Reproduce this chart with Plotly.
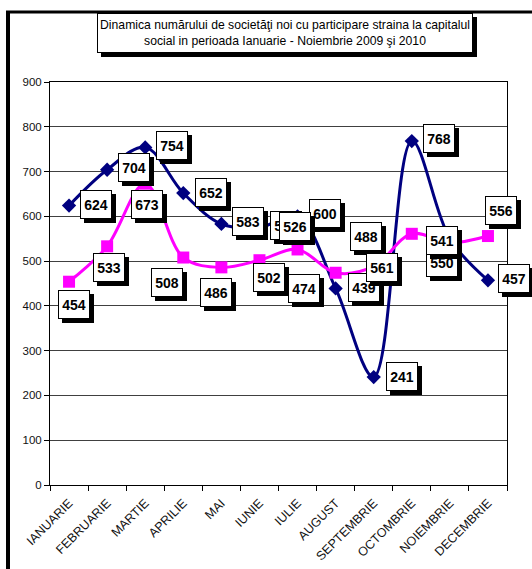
import plotly.graph_objects as go

months = ["IANUARIE", "FEBRUARIE", "MARTIE", "APRILIE", "MAI", "IUNIE",
          "IULIE", "AUGUST", "SEPTEMBRIE", "OCTOMBRIE", "NOIEMBRIE", "DECEMBRIE"]
series_navy = [624, 704, 754, 652, 583, 575, 600, 439, 241, 768, 550, 457]
series_magenta = [454, 533, 673, 508, 486, 502, 526, 474, 488, 561, 541, 556]
y_ticks = [0, 100, 200, 300, 400, 500, 600, 700, 800, 900]

# label offsets in pixels (dx, dy up)
navy_label_shift = [(27, 1), (27, 2), (27, 2), (28, 1), (27, 2), (27, 2),
                    (27, 3), (28, 1), (28, 1), (27, 3), (-8, -24), (26, 2)]
mag_label_shift = [(5, -23), (2, -21), (2, -21), (-16, -25), (-5, -25), (10, -17),
                   (-3, 23), (-32, -16), (-8, 30), (-30, -34), (-8, 2), (13, 26)]

NAVY = "#000080"
MAG = "#FF00FF"

fig = go.Figure()
fig.add_trace(go.Scatter(
    x=months, y=series_navy, mode="lines+markers",
    line=dict(color=NAVY, width=3, shape="spline", smoothing=1.0),
    marker=dict(symbol="diamond", size=11, color=NAVY),
    showlegend=False, hoverinfo="skip"))
fig.add_trace(go.Scatter(
    x=months, y=series_magenta, mode="lines+markers",
    line=dict(color=MAG, width=3, shape="spline", smoothing=1.0),
    marker=dict(symbol="square", size=12, color=MAG),
    showlegend=False, hoverinfo="skip"))

annotations = []
def add_label(xv, yv, dx, dy):
    common = dict(x=xv, y=yv, xref="x", yref="y", showarrow=False,
                  text="<b>%d</b>" % yv,
                  font=dict(family="Arial, Liberation Sans", size=14, color="black"),
                  width=28, height=25, borderpad=1, borderwidth=1)
    annotations.append(dict(common, xshift=dx + 4, yshift=dy - 4, bgcolor="black",
                            bordercolor="black"))
    annotations.append(dict(common, xshift=dx, yshift=dy, bgcolor="white", bordercolor="black"))

for m, v, (dx, dy) in zip(months, series_navy, navy_label_shift):
    add_label(m, v, dx, dy)
for m, v, (dx, dy) in zip(months, series_magenta, mag_label_shift):
    add_label(m, v, dx, dy)

# plot area geometry (pixels)
L, R, T, B = 50, 25, 82, 84
W = 532 - L - R
H = 569 - T - B
def px(xp):
    return (xp - L) / W
def py(yp):
    return (569 - B - yp) / H

title_text = ("Dinamica numărului de societăţi noi cu participare straina la capitalul<br>"
              "social in perioada Ianuarie - Noiembrie 2009 şi 2010")
tx0, tx1, ty0, ty1 = 97, 473, 13, 53
annotations.append(dict(xref="paper", yref="paper", x=px((tx0 + tx1) / 2 + 4), y=py((ty0 + ty1) / 2 + 4),
                        showarrow=False, text=" ", width=tx1 - tx0 - 2, height=ty1 - ty0 - 2,
                        bgcolor="black", bordercolor="black", borderwidth=1, borderpad=0,
                        xanchor="center", yanchor="middle"))
annotations.append(dict(xref="paper", yref="paper", x=px((tx0 + tx1) / 2), y=py((ty0 + ty1) / 2),
                        showarrow=False, text=title_text, width=tx1 - tx0 - 2, height=ty1 - ty0 - 2,
                        bgcolor="white", bordercolor="black", borderwidth=1, borderpad=0,
                        align="center", xanchor="center", yanchor="middle",
                        font=dict(family="Arial, Liberation Sans", size=12.2, color="black")))

shapes = [
    dict(type="line", xref="paper", yref="paper", x0=px(8), x1=px(8), y0=py(11), y1=py(575),
         line=dict(color="black", width=4)),
    dict(type="line", xref="paper", yref="paper", x0=px(6), x1=px(545), y0=py(12), y1=py(12),
         line=dict(color="black", width=3)),
]

fig.update_layout(
    width=532, height=569,
    margin=dict(l=L, r=R, t=T, b=B, pad=0, autoexpand=False),
    paper_bgcolor="white", plot_bgcolor="white",
    font=dict(family="Arial, Liberation Sans", size=11, color="black"),
    annotations=annotations, shapes=shapes,
    xaxis=dict(type="category", categoryorder="array", categoryarray=months,
               tickson="boundaries", ticks="outside", ticklen=5, tickcolor="black",
               showline=True, linecolor="black", linewidth=1, mirror=True,
               showgrid=False, tickangle=-45, tickfont=dict(size=12.5, color="#111"),
               ticklabelstandoff=5, range=[-0.5, 11.5], automargin=False),
    yaxis=dict(range=[0, 900], tickvals=y_ticks, ticks="outside", ticklen=5, tickcolor="black",
               showline=True, linecolor="black", linewidth=1, mirror=True,
               showgrid=True, gridcolor="#404040", gridwidth=1, zeroline=False,
               tickfont=dict(size=11.5, color="#111"), automargin=False),
)

fig.write_html("out.html", config={"displayModeBar": False},
               post_script="document.body.style.margin='0px';")
